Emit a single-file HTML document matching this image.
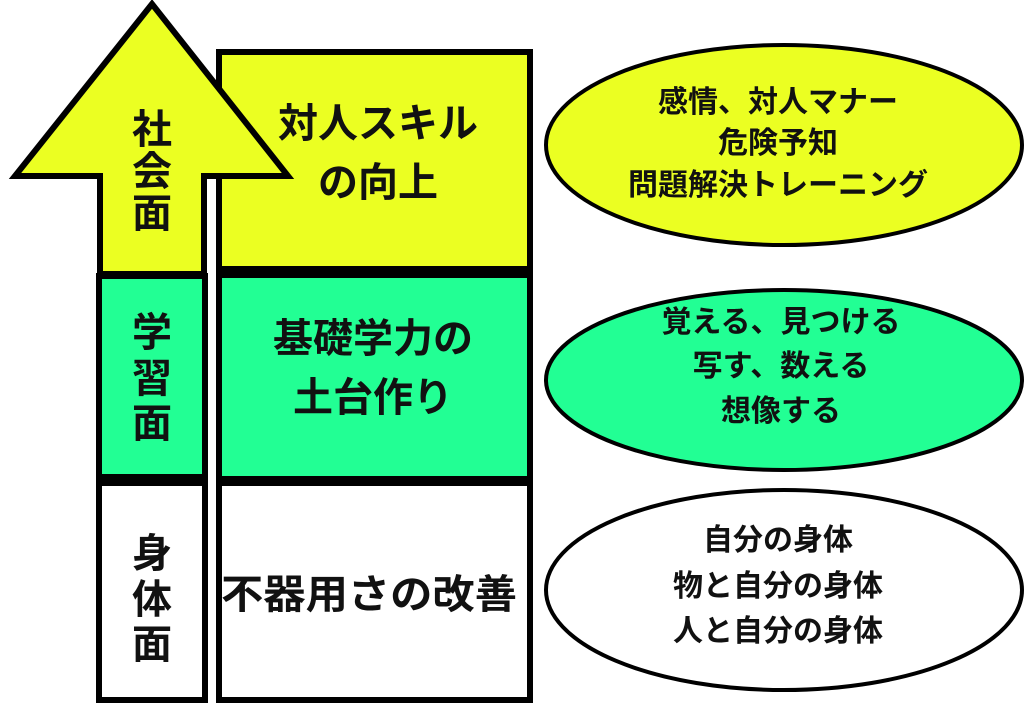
<!DOCTYPE html>
<html><head><meta charset="utf-8"><style>
html,body{margin:0;padding:0;background:#fff;width:1024px;height:718px;overflow:hidden}
text{font-family:"Liberation Sans","Noto Sans CJK JP",sans-serif;font-weight:bold;fill:#111}
</style></head><body>
<svg width="1024" height="718" viewBox="0 0 1024 718" xmlns="http://www.w3.org/2000/svg">
<!-- left column boxes -->
<rect x="99" y="276" width="106" height="201" fill="#22ff94" stroke="#000" stroke-width="6"/>
<rect x="99" y="482" width="106" height="218" fill="#fff" stroke="#000" stroke-width="6"/>
<!-- right boxes -->
<rect x="219" y="52" width="311" height="220" fill="#ebff22" stroke="#000" stroke-width="6"/>
<rect x="219" y="272" width="311" height="208" fill="#22ff94" stroke="#000" stroke-width="6"/>
<rect x="219" y="482" width="311" height="218" fill="#fff" stroke="#000" stroke-width="6"/>
<rect x="219" y="266" width="311" height="12" fill="#000"/>
<rect x="219" y="476" width="311" height="10" fill="#000"/>
<rect x="99" y="476" width="106" height="10" fill="#000"/>
<!-- arrow on top -->
<polygon points="152,4 288,176 204,176 204,274 100,274 100,176 15,176" fill="#ebff22" stroke="#000" stroke-width="6" stroke-linejoin="miter"/>
<!-- left labels -->
<g font-size="40" text-anchor="middle">
<text x="152" y="143">社</text><text x="152" y="185">会</text><text x="152" y="227">面</text>
<text x="152" y="346">学</text><text x="152" y="392">習</text><text x="152" y="437">面</text>
<text x="152" y="567">身</text><text x="152" y="613">体</text><text x="152" y="658">面</text>
</g>
<g font-size="40" text-anchor="middle">
<text x="378" y="137">対人スキル</text><text x="378" y="196">の向上</text>
<text x="373" y="352">基礎学力の</text><text x="373" y="411">土台作り</text>
<text x="369" y="608" textLength="296" lengthAdjust="spacingAndGlyphs">不器用さの改善</text>
</g>
<!-- ellipses -->
<ellipse cx="784" cy="145" rx="238" ry="100" fill="#ebff22" stroke="#000" stroke-width="4"/>
<ellipse cx="784" cy="380" rx="238" ry="90" fill="#22ff94" stroke="#000" stroke-width="4"/>
<ellipse cx="784" cy="590" rx="238" ry="100" fill="#fff" stroke="#000" stroke-width="4"/>
<g font-size="30" text-anchor="middle">
<text x="778" y="112">感情、対人マナー</text>
<text x="778" y="153">危険予知</text>
<text x="778" y="195">問題解決トレーニング</text>
<text x="781" y="332">覚える、見つける</text>
<text x="781" y="376">写す、数える</text>
<text x="781" y="421">想像する</text>
<text x="778" y="550">自分の身体</text>
<text x="778" y="596">物と自分の身体</text>
<text x="778" y="641">人と自分の身体</text>
</g>
</svg>
</body></html>
